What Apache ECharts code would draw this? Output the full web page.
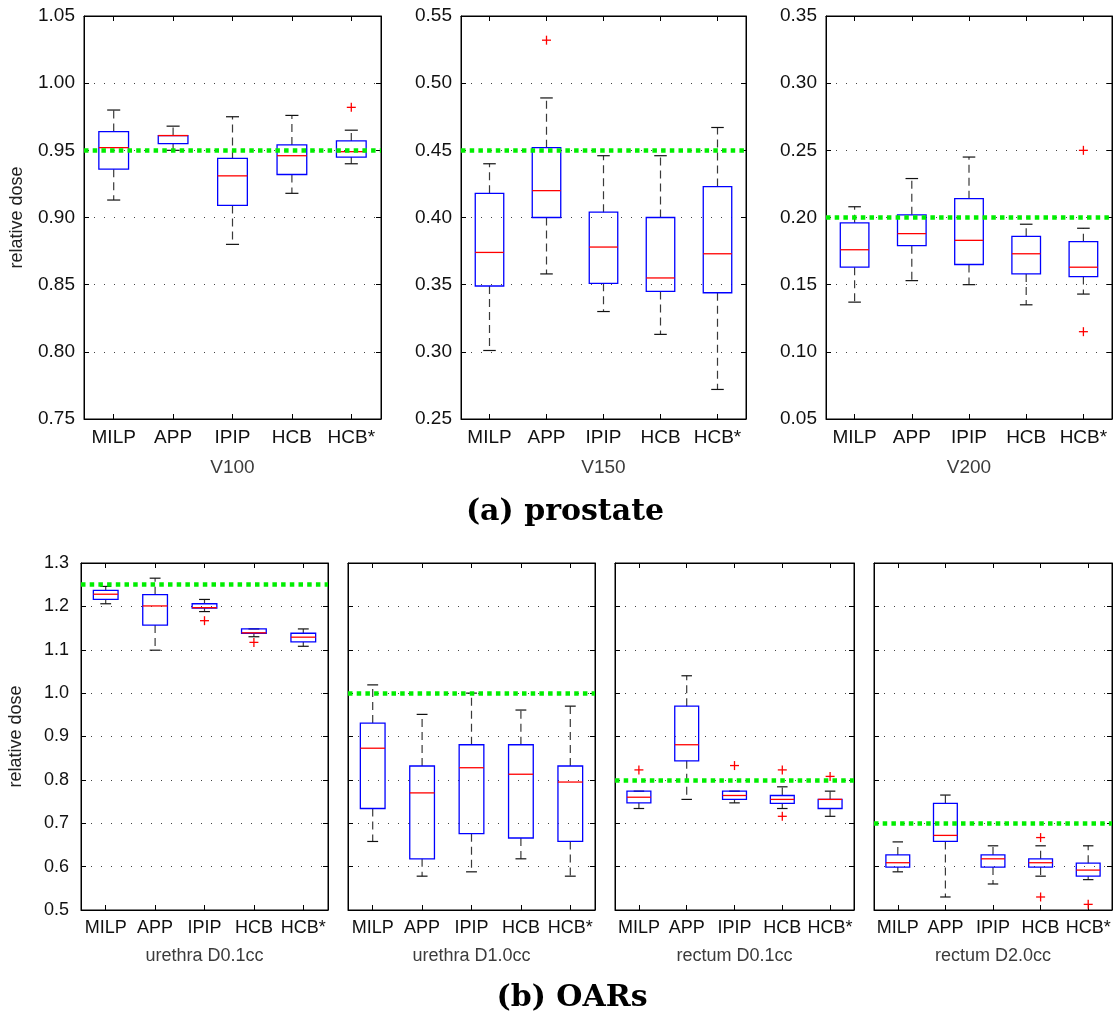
<!DOCTYPE html>
<html>
<head>
<meta charset="utf-8">
<script src="https://cdn.jsdelivr.net/npm/echarts@6/dist/echarts.min.js"></script>
<style>
html,body{margin:0;padding:0;background:#fff;}
#chart{width:1117px;height:1014px;}
</style>
</head>
<body>
<div id="chart"></div>
<script>
// ---------------- DATA ----------------
const categories = ['MILP', 'APP', 'IPIP', 'HCB', 'HCB*'];

// each row: [min whisker, Q1, median, Q3, max whisker]
const v100Stats = [
  [0.913, 0.936, 0.952, 0.964, 0.980],
  [0.950, 0.955, 0.961, 0.961, 0.968],
  [0.880, 0.909, 0.931, 0.944, 0.975],
  [0.918, 0.932, 0.946, 0.954, 0.976],
  [0.940, 0.945, 0.949, 0.957, 0.965]
];
const v100Outliers = [[4, 0.982]];

const v150Stats = [
  [0.301, 0.349, 0.374, 0.418, 0.440],
  [0.358, 0.400, 0.420, 0.452, 0.489],
  [0.330, 0.351, 0.378, 0.404, 0.446],
  [0.313, 0.345, 0.355, 0.400, 0.446],
  [0.272, 0.344, 0.373, 0.423, 0.467]
];
const v150Outliers = [[1, 0.532]];

const v200Stats = [
  [0.137, 0.163, 0.176, 0.196, 0.208],
  [0.153, 0.179, 0.188, 0.202, 0.229],
  [0.150, 0.165, 0.183, 0.214, 0.245],
  [0.135, 0.158, 0.173, 0.186, 0.195],
  [0.143, 0.156, 0.163, 0.182, 0.192]
];
const v200Outliers = [[4, 0.250], [4, 0.115]];

const urethraD01Stats = [
  [1.206, 1.216, 1.228, 1.237, 1.246],
  [1.099, 1.157, 1.201, 1.227, 1.265],
  [1.188, 1.196, 1.197, 1.206, 1.216],
  [1.130, 1.138, 1.139, 1.148, 1.148],
  [1.108, 1.118, 1.129, 1.138, 1.148]
];
const urethraD01Outliers = [[2, 1.167], [3, 1.117]];

const urethraD10Stats = [
  [0.658, 0.734, 0.873, 0.931, 1.019],
  [0.578, 0.618, 0.770, 0.832, 0.951],
  [0.588, 0.676, 0.828, 0.881, 1.000],
  [0.618, 0.666, 0.813, 0.881, 0.961],
  [0.578, 0.658, 0.795, 0.832, 0.970]
];
const urethraD10Outliers = [];

const rectumD01Stats = [
  [0.734, 0.747, 0.760, 0.774, 0.774],
  [0.755, 0.844, 0.881, 0.970, 1.040],
  [0.747, 0.755, 0.764, 0.774, 0.774],
  [0.734, 0.746, 0.755, 0.764, 0.784],
  [0.716, 0.734, 0.755, 0.755, 0.774]
];
const rectumD01Outliers = [[0, 0.823], [2, 0.833], [3, 0.823], [3, 0.716], [4, 0.808]];

const rectumD20Stats = [
  [0.588, 0.599, 0.609, 0.627, 0.657],
  [0.530, 0.658, 0.672, 0.746, 0.765],
  [0.560, 0.599, 0.618, 0.627, 0.648],
  [0.578, 0.599, 0.609, 0.618, 0.648],
  [0.570, 0.578, 0.592, 0.608, 0.648]
];
const rectumD20Outliers = [[3, 0.667], [3, 0.530], [4, 0.513]];

const panelNames = ['V100', 'V150', 'V200', 'urethra D0.1cc', 'urethra D1.0cc', 'rectum D0.1cc', 'rectum D2.0cc'];
const thresholds = [0.95, 0.45, 0.20, 1.25, 1.00, 0.80, 0.70];
const yMins = [0.75, 0.25, 0.05, 0.5, 0.5, 0.5, 0.5];
const yMaxs = [1.05, 0.55, 0.35, 1.3, 1.3, 1.3, 1.3];
const yIntervals = [0.05, 0.05, 0.05, 0.1, 0.1, 0.1, 0.1];
const yDecimals = [2, 2, 2, 1, 1, 1, 1];
const yLabelsShown = [true, true, true, true, false, false, false];
const yAxisTitle = 'relative dose';
const groupTitles = ['(a) prostate', '(b) OARs'];

const allStats = [v100Stats, v150Stats, v200Stats, urethraD01Stats, urethraD10Stats, rectumD01Stats, rectumD20Stats];
const allOutliers = [v100Outliers, v150Outliers, v200Outliers, urethraD01Outliers, urethraD10Outliers, rectumD01Outliers, rectumD20Outliers];

// ---------------- LAYOUT ----------------
const grids = [
  {left: 84, top: 16, width: 297, height: 403},
  {left: 461, top: 16, width: 285, height: 403},
  {left: 826, top: 16, width: 286, height: 403},
  {left: 81, top: 563, width: 247, height: 347},
  {left: 348, top: 563, width: 247, height: 347},
  {left: 615, top: 563, width: 239, height: 347},
  {left: 874, top: 563, width: 238, height: 347}
];
const FONT = 'Liberation Sans, Arial, sans-serif';

function renderBox(params, api) {
  const c = api.value(0);
  const mn = api.value(1), q1 = api.value(2), md = api.value(3), q3 = api.value(4), mx = api.value(5);
  const cw = api.size([1, 0])[0];
  const hb = cw * 0.25;
  const hc = cw * 0.11;
  const x = api.coord([c, md])[0];
  const yMn = api.coord([c, mn])[1], yQ1 = api.coord([c, q1])[1], yMd = api.coord([c, md])[1];
  const yQ3 = api.coord([c, q3])[1], yMx = api.coord([c, mx])[1];
  const wStyle = {stroke: '#3a3a3a', lineWidth: 1.2, lineDash: [8, 5], fill: null};
  const cStyle = {stroke: '#111', lineWidth: 1.2, fill: null};
  return {
    type: 'group',
    children: [
      {type: 'line', shape: {x1: x, y1: yQ3, x2: x, y2: yMx}, style: wStyle},
      {type: 'line', shape: {x1: x, y1: yQ1, x2: x, y2: yMn}, style: wStyle},
      {type: 'line', shape: {x1: x - hc, y1: yMx, x2: x + hc, y2: yMx}, style: cStyle},
      {type: 'line', shape: {x1: x - hc, y1: yMn, x2: x + hc, y2: yMn}, style: cStyle},
      {type: 'rect', shape: {x: x - hb, y: yQ3, width: 2 * hb, height: yQ1 - yQ3},
        style: {fill: 'rgba(0,0,0,0)', stroke: '#0000ff', lineWidth: 1.3}},
      {type: 'line', shape: {x1: x - hb, y1: yMd, x2: x + hb, y2: yMd},
        style: {stroke: '#ff0000', lineWidth: 1.3}}
    ]
  };
}

function renderPlus(params, api) {
  const p = api.coord([api.value(0), api.value(1)]);
  const s = 4.5;
  const st = {stroke: '#ff0000', lineWidth: 1.3};
  return {
    type: 'group',
    children: [
      {type: 'line', shape: {x1: p[0] - s, y1: p[1], x2: p[0] + s, y2: p[1]}, style: st},
      {type: 'line', shape: {x1: p[0], y1: p[1] - s, x2: p[0], y2: p[1] + s}, style: st}
    ]
  };
}

const gridOpts = [], xAxes = [], yAxes = [], series = [];
grids.forEach((g, i) => {
  const top = i < 3;
  const fs = top ? 19 : 18;
  gridOpts.push(Object.assign({show: true, borderColor: '#000', borderWidth: 1, backgroundColor: '#fff', containLabel: false}, g));
  xAxes.push({
    type: 'category', gridIndex: i, data: categories, position: 'bottom',
    boundaryGap: true,
    axisLine: {show: true, lineStyle: {color: '#000', width: 1}},
    axisTick: {show: true, inside: true, length: 5, alignWithLabel: true, lineStyle: {color: '#000'}},
    axisLabel: {color: '#111', fontFamily: FONT, fontSize: fs, margin: 9, interval: 0},
    splitLine: {show: false},
    name: panelNames[i], nameLocation: 'middle', nameGap: top ? 39 : 37,
    nameTextStyle: {color: '#3c3c3c', fontFamily: FONT, fontSize: top ? 19 : 18}
  });
  xAxes.push({
    type: 'category', gridIndex: i, data: categories, position: 'top',
    boundaryGap: true,
    axisLine: {show: true, lineStyle: {color: '#000', width: 1}},
    axisTick: {show: true, inside: true, length: 5, alignWithLabel: true, lineStyle: {color: '#000'}},
    axisLabel: {show: false}, splitLine: {show: false}
  });
  const dec = yDecimals[i];
  yAxes.push({
    type: 'value', gridIndex: i, position: 'left',
    min: yMins[i], max: yMaxs[i], interval: yIntervals[i],
    axisLine: {show: true, lineStyle: {color: '#000', width: 1}},
    axisTick: {show: true, inside: true, length: 5, lineStyle: {color: '#000'}},
    axisLabel: {show: yLabelsShown[i], color: '#111', fontFamily: FONT, fontSize: top ? 19 : 18, margin: top ? 9 : 12,
      formatter: v => v.toFixed(dec)},
    splitLine: {show: true, lineStyle: {color: '#444', width: 1, type: [1, 9]}},
    name: (i === 0 || i === 3) ? yAxisTitle : '',
    nameLocation: 'middle', nameGap: top ? 58 : 56, nameRotate: 90,
    nameTextStyle: {color: '#222', fontFamily: FONT, fontSize: 18}
  });
  yAxes.push({
    type: 'value', gridIndex: i, position: 'right',
    min: yMins[i], max: yMaxs[i], interval: yIntervals[i],
    axisLine: {show: true, lineStyle: {color: '#000', width: 1}},
    axisTick: {show: true, inside: true, length: 5, lineStyle: {color: '#000'}},
    axisLabel: {show: false}, splitLine: {show: false}
  });
  series.push({
    type: 'custom', xAxisIndex: 2 * i, yAxisIndex: 2 * i,
    data: allStats[i].map((r, k) => [k].concat(r)),
    encode: {x: 0, y: [1, 2, 3, 4, 5]},
    renderItem: renderBox, z: 3, silent: true
  });
  series.push({
    type: 'custom', xAxisIndex: 2 * i, yAxisIndex: 2 * i,
    data: allOutliers[i],
    encode: {x: 0, y: 1},
    renderItem: renderPlus, z: 4, silent: true
  });
  series.push({
    type: 'line', xAxisIndex: 2 * i, yAxisIndex: 2 * i, data: [], z: 6, silent: true,
    markLine: {
      silent: true, symbol: ['none', 'none'], animation: false,
      label: {show: false},
      lineStyle: {color: '#00ee00', width: 4.5, type: [4.5, 4.2], opacity: 1},
      emphasis: {disabled: true},
      data: [{yAxis: thresholds[i]}]
    }
  });
});

const chart = echarts.init(document.getElementById('chart'), null, {renderer: 'canvas'});
chart.setOption({
  animation: false,
  backgroundColor: '#fff',
  title: [
    {text: groupTitles[0], left: 565, top: 497, textAlign: 'center', padding: 0,
      textStyle: {fontFamily: 'DejaVu Serif', fontWeight: 'bold', fontSize: 30, color: '#000'}},
    {text: groupTitles[1], left: 572, top: 983, textAlign: 'center', padding: 0,
      textStyle: {fontFamily: 'DejaVu Serif', fontWeight: 'bold', fontSize: 30, color: '#000'}}
  ],
  grid: gridOpts,
  xAxis: xAxes,
  yAxis: yAxes,
  series: series
});
</script>
</body>
</html>
